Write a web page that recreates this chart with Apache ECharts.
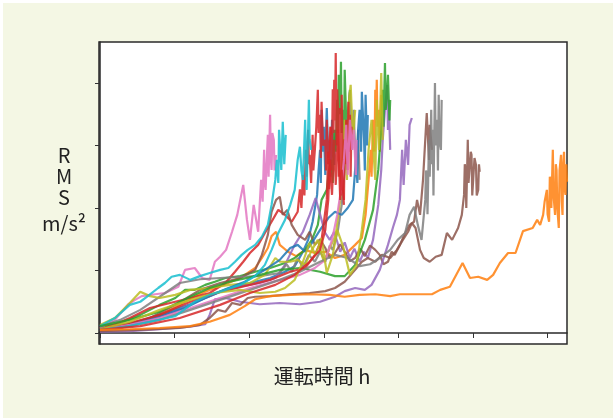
<!DOCTYPE html>
<html><head><meta charset="utf-8">
<script src="https://cdn.jsdelivr.net/npm/echarts@6/dist/echarts.min.js"></script>
<style>html,body{margin:0;padding:0;background:#fff}#c{width:613px;height:418px}</style>
</head><body><div id="c"></div>
<script>
// Operating hours (x) vs RMS acceleration (y); ticks unlabeled in the original
const xTicks = [0, 100, 200, 300, 400, 500, 600];
const yTicks = [0, 1, 2, 3, 4];
const xLabel = '運転時間 h';
const yLabelTop = 'R\nM\nS';
const yLabelUnit = 'm/s²';

const blue1 = [[0,0.05],[40,0.13],[80,0.29],[121,0.46],[147,0.59],[174,0.72],[201,0.80],[228,0.88],[248,0.98],[261,1.07],[272,1.30],[279,1.49],[285,1.78],[291,2.21],[293,2.6],[295,2.93],[296,2.4],[297,3.57],[299,2.9],[300,3.3],[302,2.53],[303,3.2],[304,3.60],[306,2.8],[308,3.09],[309,2.5],[311,3.41],[312,2.9],[314,2.69],[315,3.1],[316,3.25]];
const orange1 = [[0,0.03],[27,0.08],[54,0.18],[80,0.29],[107,0.45],[127,0.59],[147,0.69],[168,0.78],[188,0.88],[208,1.04],[217,1.20],[225,1.36],[230,1.55],[236,1.62],[241,1.41],[252,1.30],[263,1.23],[275,1.33],[288,1.28],[302,1.30],[315,1.20],[328,1.25],[342,1.41],[351,1.52],[356,1.89],[360,2.45],[363,2.93],[364,2.5],[366,3.41],[368,2.9],[369,3.89],[370,3.41],[371,4.05],[372,3.3],[374,3.57],[375,2.9],[377,3.81]];
const green1 = [[0,0.08],[27,0.16],[54,0.29],[80,0.45],[101,0.56],[114,0.69],[127,0.69],[141,0.77],[154,0.82],[168,0.88],[188,0.91],[208,0.98],[228,1.04],[248,1.12],[261,1.20],[275,1.33],[284,1.49],[292,1.73],[297,2.13],[304,2.29],[307,2.6],[310,2.77],[312,2.4],[314,3.25],[316,2.9],[318,3.73],[319,3.2],[320,4.13],[322,3.5],[323,4.34],[324,3.2],[326,3.57],[327,2.9],[328,4.21],[330,3.4],[331,3.09],[333,3.6],[335,3.89]];
const red1 = [[0,0.08],[20,0.14],[40,0.24],[67,0.40],[94,0.48],[121,0.56],[147,0.64],[168,0.80],[181,0.98],[192,1.14],[201,1.28],[212,1.41],[221,1.60],[230,1.78],[239,1.97],[248,1.89],[257,1.78],[265,1.94],[268,2.3],[270,2.0],[272,2.53],[274,2.2],[276,2.93],[277,2.5],[279,3.25],[280,2.7],[281,2.85],[283,2.4],[285,3.17],[286,2.6],[288,2.93],[290,3.3],[292,3.89],[293,3.2],[295,3.49],[296,2.8],[297,3.70],[299,3.0],[302,3.09],[303,2.6],[304,3.41],[306,2.7],[307,2.85],[309,3.3],[310,3.17]];
const purple1 = [[0,0.03],[34,0.10],[67,0.21],[101,0.34],[134,0.53],[161,0.66],[188,0.74],[214,0.80],[235,0.88],[248,1.09],[261,1.41],[272,1.62],[281,1.89],[289,2.16],[297,1.81],[302,1.6],[308,1.49],[314,1.62],[322,1.30],[328,1.45],[335,1.20],[341,1.35],[348,1.14],[354,1.3],[359,1.20],[366,1.49],[373,2.05],[377,2.61],[379,3.09],[382,3.57],[385,3.97],[386,3.25],[387,3.73],[389,2.93]];
const brown1 = [[0,0.06],[34,0.13],[67,0.24],[101,0.45],[134,0.69],[161,0.80],[188,0.88],[208,1.01],[217,1.25],[225,1.57],[230,1.94],[236,2.13],[241,2.18],[245,1.89],[251,1.97],[257,1.73],[265,1.57],[275,1.49],[281,1.62],[288,1.41],[295,1.5],[302,1.36],[308,1.2],[315,1.28],[322,1.42],[328,1.30],[335,1.15],[342,1.20],[349,1.35],[355,1.23],[362,1.4],[369,1.33],[375,1.25],[380,1.1],[386,1.14],[391,1.3],[395,1.25],[402,1.41],[409,1.60],[415,1.73],[421,1.78],[425,2.13],[429,1.89],[433,2.45],[436,3.09],[438,3.52],[441,2.77],[442,3.33],[445,2.93]];
const pink1 = [[0,0.08],[20,0.21],[38,0.46],[47,0.53],[56,0.59],[74,0.62],[87,0.64],[105,0.74],[114,1.01],[127,1.04],[137,0.88],[147,0.85],[154,1.14],[161,1.22],[169,1.33],[177,1.62],[184,1.89],[192,2.37],[197,1.81],[201,1.49],[206,2.05],[212,1.62],[216,2.45],[218,2.1],[220,2.93],[221,2.4],[222,2.29],[224,2.9],[225,3.17],[226,2.5],[228,3.49],[229,2.8],[230,2.61],[231,3.2],[233,3.09],[234,2.6],[236,2.85]];
const gray1 = [[0,0.10],[27,0.21],[54,0.37],[80,0.58],[107,0.80],[134,0.86],[161,0.88],[188,0.90],[214,0.91],[241,0.96],[250,1.1],[257,0.98],[265,1.2],[272,1.05],[280,1.25],[288,1.14],[295,1.3],[302,1.14],[308,1.4],[312,1.33],[319,1.65],[324,2.05],[328,2.61],[332,3.41],[335,3.86],[338,2.93],[340,3.57],[343,2.61],[346,3.25],[348,2.45]];
const olive1 = [[0,0.13],[20,0.24],[40,0.48],[54,0.66],[67,0.59],[80,0.56],[101,0.61],[121,0.69],[147,0.72],[174,0.77],[201,0.80],[221,0.93],[235,1.20],[241,1.14],[255,1.14],[265,1.17],[275,1.09],[284,1.33],[292,1.49],[300,1.14],[308,1.36],[316,1.57],[322,2.13],[326,2.93],[328,3.41],[331,2.45],[334,3.73],[336,3.97],[339,3.09],[342,3.57]];
const cyan1 = [[0,0.11],[20,0.24],[40,0.45],[54,0.50],[64,0.59],[78,0.72],[87,0.80],[96,0.90],[107,0.93],[121,0.85],[134,0.91],[147,0.96],[161,1.01],[172,1.04],[181,1.14],[190,1.25],[198,1.33],[208,1.41],[217,1.54],[225,1.73],[230,2.05],[235,2.45],[237,2.77],[239,2.4],[240,3.25],[243,2.61],[244,3.0],[245,3.38],[247,2.7],[248,2.93],[249,3.17]];
const blue2 = [[0,0.06],[40,0.14],[80,0.27],[114,0.40],[141,0.56],[168,0.70],[194,0.82],[221,1.01],[241,1.17],[255,1.36],[265,1.41],[275,1.30],[284,1.44],[295,1.65],[306,1.84],[315,1.94],[324,1.89],[332,2.00],[339,2.13],[343,2.77],[345,2.4],[346,3.25],[348,3.57],[350,2.9],[351,3.86],[354,3.09],[355,2.6],[356,3.81],[358,3.0],[359,3.49]];
const orange2 = [[0,0.05],[40,0.06],[80,0.08],[121,0.11],[147,0.18],[174,0.29],[194,0.43],[208,0.54],[228,0.59],[255,0.61],[281,0.62],[308,0.61],[328,0.58],[348,0.61],[369,0.62],[389,0.59],[402,0.62],[422,0.62],[445,0.62],[456,0.69],[469,0.74],[486,1.12],[496,0.88],[507,0.90],[519,0.85],[527,0.93],[536,1.12],[547,1.28],[557,1.28],[567,1.63],[580,1.68],[586,1.81],[590,1.73],[594,1.89],[596,2.1],[599,2.29],[600,1.9],[602,1.78],[603,2.5],[604,2.45],[605,2.0],[607,2.93],[608,2.2],[610,1.89],[611,2.7],[612,2.61],[613,2.0],[615,1.68],[616,2.6],[618,2.85],[619,2.1],[620,1.89],[621,2.7],[622,2.90],[623,2.3],[624,2.21],[625,2.7],[626,2.42]];
const green2 = [[0,0.11],[40,0.21],[80,0.34],[121,0.58],[147,0.72],[174,0.82],[208,0.91],[241,1.01],[268,1.04],[295,0.98],[315,0.91],[328,0.91],[342,1.09],[355,1.49],[366,1.97],[373,2.61],[377,3.25],[379,3.89],[380,3.3],[382,4.32],[383,3.57],[385,3.9],[386,4.13],[388,3.4],[389,3.73]];
const red2 = [[0,0.06],[40,0.16],[80,0.29],[121,0.50],[161,0.66],[201,0.77],[228,0.85],[255,0.98],[275,1.04],[288,1.25],[297,1.49],[304,2.13],[306,2.9],[307,2.3],[308,2.45],[309,3.3],[310,2.6],[311,2.93],[312,3.9],[313,3.2],[314,4.05],[315,3.4],[316,4.48],[317,3.0],[318,3.9],[319,3.57],[320,2.5],[321,3.6],[322,2.93],[323,2.2],[324,3.81],[325,3.0],[326,2.4],[327,2.13],[328,3.1],[329,2.7],[330,3.41],[331,2.8],[332,2.61],[333,3.7],[334,2.9],[335,3.49],[336,2.5],[337,3.3],[338,3.09]];
const purple2 = [[0,0.02],[40,0.03],[80,0.06],[121,0.10],[141,0.14],[147,0.29],[154,0.54],[168,0.56],[188,0.50],[214,0.46],[241,0.48],[268,0.46],[295,0.50],[315,0.58],[328,0.67],[342,0.72],[355,0.69],[364,0.77],[375,1.01],[386,1.41],[393,1.70],[398,1.89],[402,2.13],[405,2.93],[407,2.37],[410,3.09],[413,2.69],[415,3.33],[418,3.44]];
const brown2 = [[0,0.03],[54,0.05],[107,0.08],[134,0.13],[147,0.24],[158,0.37],[168,0.34],[177,0.48],[188,0.45],[198,0.56],[208,0.58],[228,0.59],[255,0.62],[281,0.64],[302,0.67],[315,0.72],[328,0.82],[342,1.01],[351,1.14],[359,1.20],[369,1.14],[378,1.25],[389,1.20],[398,1.33],[406,1.49],[413,1.62],[418,1.76],[423,1.68],[429,1.33],[434,1.20],[442,1.14],[450,1.22],[458,1.25],[465,1.60],[472,1.49],[480,1.68],[485,1.89],[488,2.21],[489,2.7],[490,2.61],[491,2.0],[493,3.09],[494,2.4],[496,2.37],[497,2.9],[498,2.85],[499,2.2],[501,2.21],[502,2.8],[504,2.69],[505,2.2],[507,2.29],[508,2.7],[509,2.58]];
const pink2 = [[0,0.05],[40,0.13],[80,0.24],[121,0.40],[161,0.56],[201,0.72],[241,0.85],[268,0.93],[288,1.04],[302,1.17],[311,1.49],[318,1.89],[323,2.29],[327,2.77],[330,3.33],[332,2.53],[335,3.41],[338,2.93],[340,3.25],[343,2.53],[344,3.09]];
const gray2 = [[0,0.05],[40,0.11],[80,0.21],[121,0.37],[161,0.53],[201,0.69],[241,0.85],[268,0.98],[295,1.14],[315,1.25],[332,1.20],[348,1.07],[362,1.10],[375,1.20],[389,1.33],[399,1.49],[409,1.60],[415,1.89],[421,2.02],[426,1.73],[431,1.49],[436,2.13],[437,2.6],[438,2.53],[439,1.9],[441,3.09],[442,2.5],[444,3.57],[445,2.7],[446,3.25],[447,2.2],[449,4.00],[450,3.0],[452,3.41],[453,2.6],[454,3.81],[455,3.1],[457,2.93],[458,3.73]];
const olive2 = [[0,0.06],[40,0.18],[80,0.37],[121,0.53],[154,0.64],[188,0.69],[214,0.64],[235,0.66],[248,0.72],[261,0.85],[272,1.14],[281,1.44],[289,1.25],[297,1.52],[304,0.96],[312,1.25],[318,1.65],[326,1.38],[335,0.93],[344,1.09],[351,1.65],[356,2.13],[360,2.93],[364,3.41],[369,2.45],[371,3.73],[374,2.93],[377,4.16],[379,3.09]];
const cyan2 = [[0,0.05],[34,0.10],[67,0.18],[101,0.27],[127,0.50],[147,0.61],[168,0.69],[188,0.77],[208,0.91],[221,1.09],[230,1.33],[239,1.60],[248,1.81],[255,2.05],[261,2.29],[265,2.77],[268,2.98],[270,2.6],[272,2.45],[275,3.41],[277,2.29],[280,3.73],[281,3.1],[283,2.93]];
const red3 = [[0,0.05],[54,0.11],[107,0.24],[161,0.45],[201,0.64],[235,0.77],[261,0.93],[281,1.14],[295,1.33],[302,1.65],[306,2.13],[308,2.77],[311,2.21],[314,3.09],[316,2.37],[319,3.25],[322,2.13],[324,2.61],[327,2.05]];

const C = {blue:'#1f77b4',orange:'#ff7f0e',green:'#2ca02c',red:'#d62728',purple:'#9467bd',brown:'#8c564b',pink:'#e377c2',gray:'#7f7f7f',olive:'#bcbd22',cyan:'#17becf'};
const runs = [
  [blue1,C.blue],[orange1,C.orange],[green1,C.green],[red1,C.red],[purple1,C.purple],
  [brown1,C.brown],[pink1,C.pink],[gray1,C.gray],[olive1,C.olive],[cyan1,C.cyan],
  [blue2,C.blue],[green2,C.green],[red2,C.red],[purple2,C.purple],
  [brown2,C.brown],[pink2,C.pink],[gray2,C.gray],[olive2,C.olive],[cyan2,C.cyan],[red3,C.red],
  [orange2,C.orange]
];

const chart = echarts.init(document.getElementById('c'), null, {renderer:'canvas'});
const font = '"Noto Sans CJK JP", "Noto Sans", sans-serif';
chart.setOption({
  animation:false,
  backgroundColor:'#f4f7e4',
  grid:{left:99,top:42,right:46,bottom:74,show:true,backgroundColor:'#ffffff',borderColor:'#2a2a2a',borderWidth:1.5,containLabel:false},
  xAxis:{type:'value',min:-1.34,max:626,
    axisLine:{show:true,lineStyle:{color:'#2a2a2a',width:1.5}},
    axisTick:{show:true,inside:false,length:5,customValues:xTicks,lineStyle:{color:'#333',width:1}},
    axisLabel:{show:false},splitLine:{show:false}},
  yAxis:{type:'value',min:-0.176,max:4.656,
    axisLine:{show:true,lineStyle:{color:'#2a2a2a',width:1.5}},
    axisTick:{show:true,inside:false,length:5,customValues:yTicks,lineStyle:{color:'#333',width:1}},
    axisLabel:{show:false},splitLine:{show:false}},
  series: runs.map(([d,c]) => ({type:'line',data:d,showSymbol:false,symbol:'none',
    lineStyle:{color:c,width:2.2,opacity:0.85},itemStyle:{color:c},z:2})),
  graphic:[
    {type:'rect',shape:{x:0,y:0,width:613,height:3},style:{fill:'#ffffff'},silent:true},
    {type:'rect',shape:{x:0,y:0,width:3,height:418},style:{fill:'#ffffff'},silent:true},
    {type:'text',x:64,y:176,style:{text:yLabelTop,fill:'#222',font:'20px '+font,align:'center',verticalAlign:'middle',lineHeight:21}},
    {type:'text',x:64,y:223,style:{text:yLabelUnit,fill:'#222',font:'20px '+font,align:'center',verticalAlign:'middle'}},
    {type:'text',x:322,y:376,style:{text:xLabel,fill:'#222',font:'20px '+font,align:'center',verticalAlign:'middle'}}
  ]
});
</script></body></html>
